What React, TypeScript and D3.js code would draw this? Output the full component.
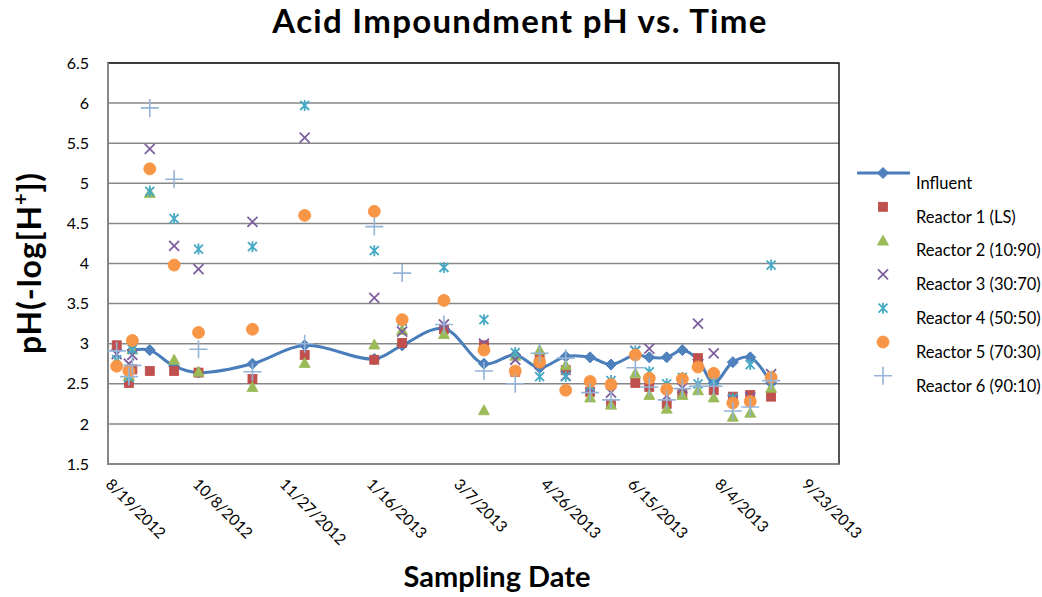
import React from 'react';
import * as d3 from 'd3';

const dates = [
  "2012-08-24", "2012-08-31", "2012-09-02", "2012-09-12", "2012-09-26", "2012-10-10",
  "2012-11-10", "2012-12-10", "2013-01-19", "2013-02-04", "2013-02-28", "2013-03-23",
  "2013-04-10", "2013-04-24", "2013-05-09", "2013-05-23", "2013-06-04", "2013-06-18",
  "2013-06-26", "2013-07-06", "2013-07-15", "2013-07-24", "2013-08-02", "2013-08-13",
  "2013-08-23", "2013-09-04",
];

const influent = [null, null, 2.92, 2.92, 2.72, 2.64, 2.75, 2.98, 2.81, 2.98, 3.19, 2.75, 2.86, 2.70, 2.84, 2.83, 2.74, 2.86, 2.83, 2.83, 2.92, 2.80, 2.51, 2.77, 2.83, 2.51];
const reactor1 = [2.98, 2.51, 2.68, 2.66, 2.66, 2.64, 2.56, 2.86, 2.80, 3.01, 3.18, 2.98, 2.65, 2.83, 2.67, 2.40, 2.25, 2.51, 2.46, 2.25, 2.38, 2.82, 2.42, 2.34, 2.36, 2.34];
const reactor2 = [2.78, 2.60, 2.93, 4.88, 2.80, 2.65, 2.46, 2.76, 2.99, 3.17, 3.12, 2.17, 2.85, 2.92, 2.73, 2.33, 2.24, 2.63, 2.36, 2.19, 2.36, 2.42, 2.33, 2.09, 2.14, 2.45];
const reactor3 = [2.87, 2.75, 2.86, 5.43, 4.22, 3.93, 4.52, 5.57, 3.57, 3.15, 3.24, 3.00, 2.80, 2.75, 2.60, 2.45, 2.39, 2.91, 2.94, 2.35, 2.45, 3.25, 2.88, 2.30, 2.33, 2.62];
const reactor4 = [2.80, 2.58, 2.93, 4.90, 4.56, 4.18, 4.21, 5.97, 4.16, 3.28, 3.95, 3.30, 2.89, 2.59, 2.59, 2.47, 2.54, 2.91, 2.65, 2.50, 2.58, 2.50, 2.53, 2.32, 2.74, 3.98];
const reactor5 = [2.72, 2.66, 3.04, 5.18, 3.98, 3.14, 3.18, 4.60, 4.65, 3.30, 3.54, 2.92, 2.66, 2.77, 2.42, 2.53, 2.49, 2.86, 2.57, 2.43, 2.56, 2.71, 2.63, 2.26, 2.28, 2.58];
const reactor6 = [2.91, 2.59, 2.73, 5.94, 5.05, 2.93, 2.65, 3.00, 4.46, 3.88, 3.24, 2.66, 2.50, 2.88, 2.82, 2.39, 2.30, 2.70, 2.46, 2.30, 2.44, 2.47, 2.47, 2.16, 2.21, 2.54];

const seriesNames = [
  "Influent", "Reactor 1 (LS)", "Reactor 2 (10:90)", "Reactor 3 (30:70)",
  "Reactor 4 (50:50)", "Reactor 5 (70:30)", "Reactor 6 (90:10)",
];

const yTicks = [1.5, 2, 2.5, 3, 3.5, 4, 4.5, 5, 5.5, 6, 6.5];
const xTickLabels = ["8/19/2012", "10/8/2012", "11/27/2012", "1/16/2013", "3/7/2013", "4/26/2013", "6/15/2013", "8/4/2013", "9/23/2013"];
const xDomain = ["8/19/2012", "10/13/2013"];

const FONT = "Lato, 'Open Sans', sans-serif";

type Kind = 'diamond' | 'square' | 'triangle' | 'x' | 'star' | 'circle' | 'plus';

function Marker({ kind, cx, cy }: { kind: Kind; cx: number; cy: number }) {
  const t = `translate(${cx},${cy})`;
  switch (kind) {
    case 'diamond':
      return <path transform={t} d="M0,-5.5L5.5,0L0,5.5L-5.5,0Z" fill="#4F81BD" stroke="#4A7EBB" strokeWidth={1} />;
    case 'square':
      return <rect x={cx - 4.5} y={cy - 4.5} width={9} height={9} fill="#C0504D" stroke="#BE4B48" strokeWidth={0.8} />;
    case 'triangle':
      return <path transform={t} d="M0,-5.5L5.5,4.5L-5.5,4.5Z" fill="#9BBB59" stroke="#98B954" strokeWidth={0.8} />;
    case 'x':
      return <path transform={t} d="M-5,-5L5,5M-5,5L5,-5" stroke="#7D60A0" strokeWidth={1.8} fill="none" />;
    case 'star':
      return <path transform={t} d="M-4.5,-4.5L4.5,4.5M-4.5,4.5L4.5,-4.5M0,-5.5L0,5.5" stroke="#46AAC5" strokeWidth={1.8} fill="none" />;
    case 'circle':
      return <circle cx={cx} cy={cy} r={6} fill="#F79646" stroke="#F69240" strokeWidth={0.8} />;
    case 'plus':
      return <path transform={t} d="M-9,0L9,0M0,-9L0,9" stroke="#95B3D7" strokeWidth={1.6} fill="none" />;
  }
  return null;
}

export default function App() {
  const W = 1042, H = 597;
  const left = 108, right = 839, top = 63, bottom = 464;
  const parse = d3.timeParse("%Y-%m-%d");
  const parseTick = d3.timeParse("%m/%d/%Y");
  const x = d3.scaleTime()
    .domain([parseTick(xDomain[0]) as Date, parseTick(xDomain[1]) as Date])
    .range([left, right]);
  const y = d3.scaleLinear().domain([1.5, 6.5]).range([bottom, top]);

  const dts = dates.map(d => parse(d) as Date);
  const pts = (vals: (number | null)[]) =>
    vals.map((v, i) => (v == null ? null : { x: x(dts[i]), y: y(v) })).filter(Boolean) as { x: number; y: number }[];

  const infPts = pts(influent);
  const line = d3.line<{ x: number; y: number }>().x(d => d.x).y(d => d.y).curve(d3.curveCatmullRom.alpha(0.5));

  const reactors: { vals: (number | null)[]; kind: Kind }[] = [
    { vals: reactor1, kind: 'square' },
    { vals: reactor2, kind: 'triangle' },
    { vals: reactor3, kind: 'x' },
    { vals: reactor4, kind: 'star' },
    { vals: reactor5, kind: 'circle' },
    { vals: reactor6, kind: 'plus' },
  ];
  const legendKinds: Kind[] = ['diamond', 'square', 'triangle', 'x', 'star', 'circle', 'plus'];

  return (
    <svg width={W} height={H} style={{ position: 'absolute', left: 0, top: 0, background: '#fff' }} fontFamily={FONT}>
      <rect x={0} y={0} width={W} height={H} fill="#fff" />
      {yTicks.map(t => (
        <line key={t} x1={left} x2={right} y1={y(t)} y2={y(t)} stroke="#878787" strokeWidth={1.5} />
      ))}
      <rect x={left} y={top} width={right - left} height={bottom - top} fill="none" stroke="#1a1a1a" strokeWidth={1.5} />
      <line x1={left} x2={left} y1={top} y2={bottom} stroke="#878787" strokeWidth={2} />
      <line x1={left} x2={right} y1={bottom} y2={bottom} stroke="#878787" strokeWidth={2} />

      {yTicks.map(t => (
        <text key={t} x={89} y={y(t)} dy="0.35em" textAnchor="end" fontSize={16} fill="#000">{t}</text>
      ))}
      {xTickLabels.map(lbl => {
        const px = x(parseTick(lbl) as Date);
        return (
          <text key={lbl} transform={`translate(${px + 5},${477}) rotate(45)`} fontSize={15.5} fill="#000" dy="0.75em">{lbl}</text>
        );
      })}

      <path d={line(infPts) || ''} fill="none" stroke="#4A7EBB" strokeWidth={3} />
      {infPts.map((p, i) => <Marker key={'i' + i} kind="diamond" cx={p.x} cy={p.y} />)}
      {reactors.map((r, si) => (
        <g key={si}>
          {pts(r.vals).map((p, i) => <Marker key={i} kind={r.kind} cx={p.x} cy={p.y} />)}
        </g>
      ))}

      <text x={520} y={33} textAnchor="middle" fontSize={33} fontWeight="bold" letterSpacing={1.3} fill="#000">Acid Impoundment pH vs. Time</text>
      <text x={497} y={587} textAnchor="middle" fontSize={29} fontWeight="bold" fill="#000">Sampling Date</text>
      <text transform={`translate(41,263) rotate(-90)`} textAnchor="middle" fontSize={32} fontWeight="bold" letterSpacing={0.9} fill="#000">
        pH(-log[H<tspan fontSize={20} dy={-13}>+</tspan><tspan dy={13}>])</tspan>
      </text>

      <line x1={857} x2={910} y1={173} y2={173} stroke="#4A7EBB" strokeWidth={3} />
      {seriesNames.map((n, i) => {
        const cy = 173 + i * 33.8;
        return (
          <g key={n}>
            <Marker kind={legendKinds[i]} cx={883} cy={cy} />
            <text x={916} y={cy + 10} dy="0.35em" fontSize={16.5} fill="#000">{n}</text>
          </g>
        );
      })}
    </svg>
  );
}
